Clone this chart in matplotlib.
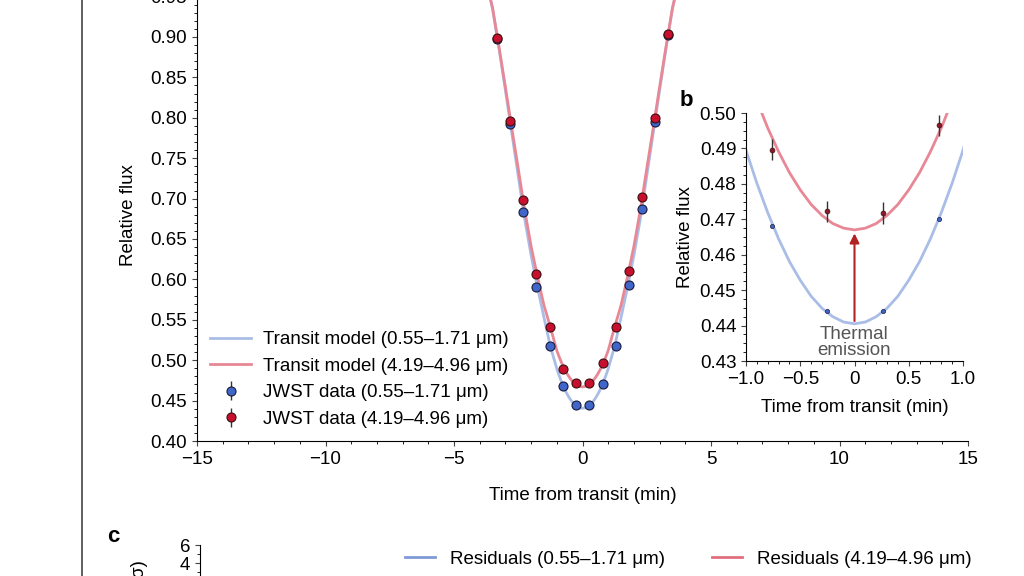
import matplotlib
matplotlib.use("Agg")
import matplotlib.pyplot as plt
from matplotlib.ticker import MultipleLocator, FormatStrFormatter, FuncFormatter
from matplotlib.lines import Line2D

plt.rcParams['font.family'] = ['Liberation Sans', 'DejaVu Sans']
FS = 13.5
plt.rcParams['font.size'] = FS

# data (time in min, relative flux)
t_data = [-3.32, -2.81, -2.30, -1.79, -1.28, -0.76, -0.25, 0.26, 0.78, 1.29, 1.80, 2.31, 2.82, 3.34]
blue_data = [0.897, 0.792, 0.684, 0.591, 0.517, 0.468, 0.444, 0.444, 0.470, 0.518, 0.593, 0.687, 0.795, 0.902]
red_data = [0.899, 0.796, 0.698, 0.607, 0.541, 0.4896, 0.4722, 0.4718, 0.4965, 0.5415, 0.610, 0.702, 0.800, 0.904]
red_err = [0.003] * 14

# model (half curve, mirrored)
t_half = [0.0, 0.1, 0.2, 0.3, 0.4, 0.5, 0.6, 0.7, 0.8, 0.9, 1.0, 1.25, 1.5, 1.75, 2.0, 2.25, 2.5, 2.75, 3.0, 3.25, 3.5, 3.75]
blue_half = [0.4405, 0.4410, 0.4425, 0.4449, 0.4483, 0.4528, 0.4581, 0.4645, 0.4719, 0.4802, 0.4895,
             0.517, 0.553, 0.590, 0.630, 0.675, 0.728, 0.781, 0.834, 0.886, 0.935, 0.970]
red_half = [0.467, 0.4675, 0.4688, 0.4711, 0.4742, 0.4783, 0.4832, 0.4891, 0.4958, 0.5035, 0.512,
            0.541, 0.568, 0.603, 0.641, 0.686, 0.737, 0.787, 0.838, 0.888, 0.936, 0.970]
t_model = [-t for t in t_half[:0:-1]] + t_half
blue_model = blue_half[:0:-1] + blue_half
red_model = red_half[:0:-1] + red_half

c_bline = '#a9bde6'
c_rline = '#e88896'
c_bpt = '#3f66c8'
c_rpt = '#c8102e'

fig = plt.figure(figsize=(10.24, 5.76), dpi=100)

ax = fig.add_axes([197/1024, 1-441/576, 771/1024, (0.56/0.05*40.4)/576])
ax.plot(t_model, blue_model, color=c_bline, lw=2, label='Transit model (0.55–1.71 μm)', solid_joinstyle='round')
ax.plot(t_model, red_model, color=c_rline, lw=2, label='Transit model (4.19–4.96 μm)', solid_joinstyle='round')
ax.errorbar(t_data, blue_data, yerr=[0.002]*len(t_data), fmt='o', ms=6.5, mfc=c_bpt, mec='#1a1a3a', mew=0.8,
            ecolor='#333333', elinewidth=1, label='JWST data (0.55–1.71 μm)', zorder=3)
ax.errorbar(t_data, red_data, yerr=red_err, fmt='o', ms=6.5, mfc=c_rpt, mec='#3a1010', mew=0.8,
            ecolor='#333333', elinewidth=1, label='JWST data (4.19–4.96 μm)', zorder=4)
ax.set_xlim(-15, 15)
ax.set_ylim(0.40, 0.96)
ax.xaxis.set_major_locator(MultipleLocator(5))
ax.xaxis.set_minor_locator(MultipleLocator(1))
ax.yaxis.set_major_locator(MultipleLocator(0.05))
ax.yaxis.set_minor_locator(MultipleLocator(0.01))
ax.yaxis.set_major_formatter(FormatStrFormatter('%.2f'))
for s in ['top', 'right']:
    ax.spines[s].set_visible(False)
ax.tick_params(direction='out', labelsize=FS, color='#444444')
ax.set_xlabel('Time from transit (min)', fontsize=FS, labelpad=14)
ax.set_ylabel('Relative flux', fontsize=FS, labelpad=10)
ax.legend(loc='lower left', frameon=False, fontsize=FS, handlelength=2.2, borderaxespad=0.3,
          labelspacing=0.5, handletextpad=0.6, bbox_to_anchor=(0.0, 0.0))

# inset b
ai = fig.add_axes([746/1024, 1-361/576, 217/1024, 248/576])
ai.set_facecolor('white')
ai.plot(t_model, blue_model, color=c_bline, lw=2, solid_joinstyle='round')
ai.plot(t_model, red_model, color=c_rline, lw=2, solid_joinstyle='round')
ai.errorbar(t_data, blue_data, fmt='o', ms=3, mfc=c_bpt, mec='#1a1a3a', mew=0.5, zorder=3)
ai.errorbar(t_data, red_data, yerr=red_err, fmt='o', ms=3.5, mfc='#8a1a2a', mec='#3a1010', mew=0.5,
            ecolor='#333333', elinewidth=1, zorder=4)
ai.annotate('', xy=(0, 0.4668), xytext=(0, 0.4405),
            arrowprops=dict(arrowstyle='-|>', color='#b22222', lw=1.5, mutation_scale=14))
ai.text(0, 0.4353, 'Thermal\nemission', ha='center', va='center', fontsize=FS, color='#555555',
        linespacing=0.95, clip_on=False, zorder=0)
ai.set_xlim(-1, 1)
ai.set_ylim(0.43, 0.50)
ai.xaxis.set_major_locator(MultipleLocator(0.5))
ai.xaxis.set_minor_locator(MultipleLocator(0.1))
ai.yaxis.set_major_locator(MultipleLocator(0.01))
ai.yaxis.set_minor_locator(MultipleLocator(0.0025))
ai.yaxis.set_major_formatter(FormatStrFormatter('%.2f'))
ai.xaxis.set_major_formatter(FuncFormatter(
    lambda v, p: '0' if abs(v) < 1e-9 else ('%.1f' % v).replace('-', '−')))
for s in ['top', 'right']:
    ai.spines[s].set_visible(False)
ai.tick_params(direction='out', labelsize=FS, color='#444444')
ai.set_xlabel('Time from transit (min)', fontsize=FS, labelpad=8)
ai.set_ylabel('Relative flux', fontsize=FS)

# panel c (cut off)
ac = fig.add_axes([200/1024, 0, 10/1024, 31/576])
ac.set_ylim(6 - 31/9, 6)
ac.yaxis.set_major_locator(MultipleLocator(2))
ac.yaxis.set_minor_locator(MultipleLocator(1))
ac.set_xticks([])
for s in ['top', 'right', 'bottom']:
    ac.spines[s].set_visible(False)
ac.patch.set_visible(False)
ac.tick_params(direction='out', labelsize=FS, color='#444444')
fig.text(140/1024, 1-560/576, 'Residual (σ)', rotation=90, ha='center', va='top', fontsize=FS)
handles = [Line2D([], [], color='#7f9ad6', lw=2), Line2D([], [], color='#e07080', lw=2)]
fig.legend(handles, ['Residuals (0.55–1.71 μm)', 'Residuals (4.19–4.96 μm)'], loc='center',
           bbox_to_anchor=(688/1024, 1-559/576), ncol=2, frameon=False, fontsize=FS,
           handlelength=1.6, columnspacing=2.5)

fig.text(113/1024, 1-537/576, 'c', fontsize=16, fontweight='bold', ha='center', va='center')
fig.text(686/1024, 1-101/576, 'b', fontsize=16, fontweight='bold', ha='center', va='center')
fig.add_artist(Line2D([82/1024, 82/1024], [0, 1], color='#444444', lw=1.2, transform=fig.transFigure))

fig.savefig('out.png', dpi=100)
